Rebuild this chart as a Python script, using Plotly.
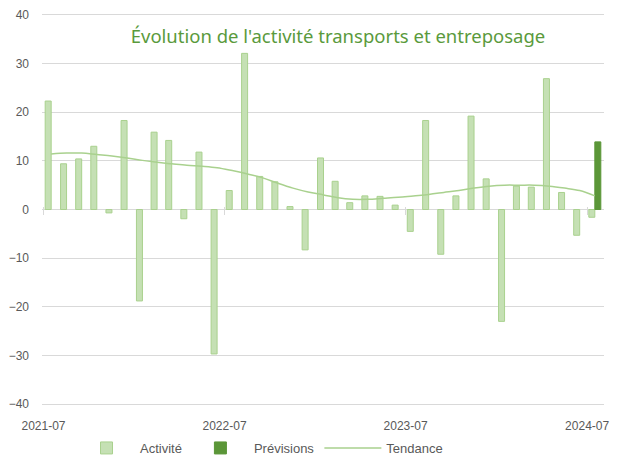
import plotly.graph_objects as go

months = ["2021-07", "2021-08", "2021-09", "2021-10", "2021-11", "2021-12",
          "2022-01", "2022-02", "2022-03", "2022-04", "2022-05", "2022-06",
          "2022-07", "2022-08", "2022-09", "2022-10", "2022-11", "2022-12",
          "2023-01", "2023-02", "2023-03", "2023-04", "2023-05", "2023-06",
          "2023-07", "2023-08", "2023-09", "2023-10", "2023-11", "2023-12",
          "2024-01", "2024-02", "2024-03", "2024-04", "2024-05", "2024-06",
          "2024-07"]
activite = [22.3, 9.4, 10.4, 13.0, -0.7, 18.3, -18.8, 15.9, 14.2, -1.9, 11.8, -29.7,
            3.9, 32.1, 6.8, 5.7, 0.6, -8.3, 10.6, 5.8, 1.4, 2.8, 2.7, 0.9,
            -4.5, 18.3, -9.2, 2.8, 19.2, 6.3, -23.0, 4.8, 4.6, 26.9, 3.5, -5.3,
            -1.6]
previsions = [None] * 36 + [13.9]
tendance = [11.4, 11.6, 11.6, 11.3, 11.0, 10.6, 10.1, 9.7, 9.4, 9.1, 8.9, 8.6,
            8.0, 7.3, 6.5, 5.4, 4.4, 3.6, 3.0, 2.4, 2.1, 2.1, 2.3, 2.5,
            2.8, 3.1, 3.5, 3.9, 4.4, 4.8, 5.0, 5.0, 5.0, 4.8, 4.4, 3.9,
            2.8]

title = "Évolution de l'activité transports et entreposage"
grid = "#d9d9d9"
txt = "#595959"

# the page body adds an 8px margin, so the figure is 8px smaller each way
W, H = 613, 452

fig = go.Figure()
fig.add_trace(go.Bar(x=months, y=activite, name="Activité",
                     xperiod="M1", xperiodalignment="middle",
                     marker=dict(color="#c5e0b4", line=dict(color="#a9d18e", width=1))))
fig.add_trace(go.Bar(x=months, y=previsions, name="Prévisions",
                     xperiod="M1", xperiodalignment="middle",
                     marker=dict(color="#5b9638", line=dict(color="#5b9638", width=1))))
fig.add_trace(go.Scatter(x=months, y=tendance, name="Tendance", mode="lines",
                         xaxis="x2",
                         xperiod="M1", xperiodalignment="middle",
                         line=dict(color="#a9d18e", width=1.5, shape="spline")))

# ranges padded a little so the edge gridlines / ticks are not dropped
fig.update_layout(
    width=W, height=H,
    margin=dict(l=33.5, r=16.5, t=5, b=54, autoexpand=False),
    paper_bgcolor="white", plot_bgcolor="white",
    barmode="group", bargap=0.18, bargroupgap=0,
    font=dict(family="Liberation Sans, Arial, sans-serif", size=12, color=txt),
    title=dict(text=title, xref="container", x=330 / W, xanchor="center",
               yref="container", y=1 - 29 / H, yanchor="middle",
               font=dict(family="Noto Sans, Open Sans, sans-serif", size=18.5, color="#5a9a3c")),
    showlegend=True,
    legend=dict(orientation="h", xref="container", xanchor="left", x=65 / W,
                yanchor="middle", yref="container", y=1 - 440 / H,
                font=dict(size=13, color=txt), itemwidth=57),
    xaxis=dict(type="date", range=["2021-06-28", "2024-08-04"],
               tick0="2021-07-01", dtick="M12", tickformat="%Y-%m",
               showgrid=False, zeroline=False, showline=False, automargin=False,
               ticks="", ticklabelstandoff=11, ticklabeloverflow="allow"),
    xaxis2=dict(type="date", overlaying="x", matches="x", anchor="free",
                position=(404 - 203) / 394, side="bottom", automargin=False,
                tick0="2021-07-01", dtick="M12", ticks="outside", ticklen=8,
                tickcolor=grid, showticklabels=False, showgrid=False,
                showline=False, zeroline=False),
    yaxis=dict(range=[-40.4, 40.4], dtick=10, tick0=0, showgrid=True, gridcolor=grid,
               gridwidth=1, zeroline=True, zerolinecolor=grid, zerolinewidth=1,
               showline=False, ticks="", ticklabelstandoff=12, automargin=False,
               ticklabeloverflow="allow"),
)

fig.write_html("out.html")
